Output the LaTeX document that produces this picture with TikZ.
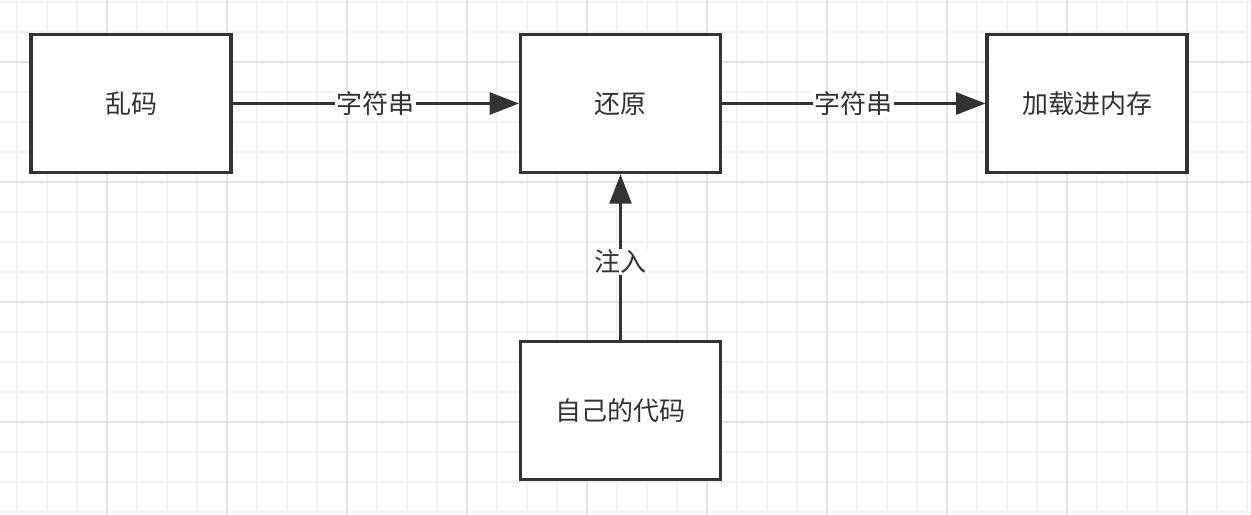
\documentclass[tikz,border=0pt]{standalone}
\usepackage{fontspec}
\setmainfont{Noto Sans CJK SC}
\usepackage{xcolor}
\usetikzlibrary{arrows.meta}
\definecolor{lineColor}{RGB}{51, 51, 51}
\definecolor{gridMinor}{RGB}{242, 242, 242}
\definecolor{gridMajor}{RGB}{226, 226, 226}

\begin{document}
\begin{tikzpicture}[x=0.75pt, y=-0.75pt, font=\fontsize{19.5}{23}\selectfont,
		stagebox/.style={draw=lineColor, line width=2.3pt, fill=white, text=lineColor,
			minimum width=150pt, minimum height=104pt, inner sep=0pt},
		flow/.style={-{Triangle[length=22pt, width=16.5pt]}, line width=2pt, lineColor},
		flowlabel/.style={fill=white, text=lineColor, inner sep=1pt}]
	% Page and background grid
	\useasboundingbox (0, 0) rectangle (1251, 514);
	\fill[white] (0, 0) rectangle (1251, 514);
	\foreach \gx in {17, 47, ..., 1250}
		\draw[gridMinor, line width=1pt] (\gx, 0) -- (\gx, 514);
	\foreach \gy in {2, 32, ..., 514}
		\draw[gridMinor, line width=1pt] (0, \gy) -- (1251, \gy);
	\foreach \gx in {107, 227, ..., 1250}
		\draw[gridMajor, line width=1pt] (\gx, 0) -- (\gx, 514);
	\foreach \gy in {62, 182, ..., 514}
		\draw[gridMajor, line width=1pt] (0, \gy) -- (1251, \gy);
	
	% Stages
	\node[stagebox] (garbled) at (131, 103.5) {乱码};
	\node[stagebox] (restore) at (620.5, 103.5) {还原};
	\node[stagebox] (loadmem) at (1087, 103.5) {加载进内存};
	\node[stagebox] (owncode) at (620.5, 410.5) {自己的代码};
	
	% Connectors
	\draw[flow] (garbled) -- node[flowlabel] {字符串} (restore);
	\draw[flow] (restore) -- node[flowlabel] {字符串} (loadmem);
	\draw[flow] (owncode) -- node[flowlabel, pos=0.47] {注入} (restore);
\end{tikzpicture}
\end{document}
